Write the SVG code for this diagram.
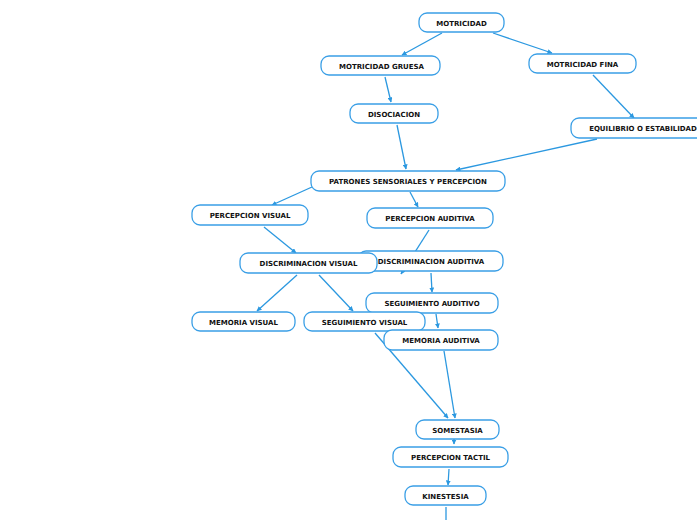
<svg xmlns="http://www.w3.org/2000/svg" width="697" height="520" viewBox="0 0 697 520">
<defs>
<marker id="ah" viewBox="0 0 10 10" refX="9" refY="5" markerWidth="5" markerHeight="5" orient="auto" markerUnits="userSpaceOnUse">
<path d="M0,0 L10,5 L0,10 z" fill="#2b98e0"/>
</marker>
<style>
.n rect{fill:#fff;stroke:#3a9fe6;stroke-width:1.3}
.n text{font-family:"DejaVu Sans",Verdana,sans-serif;font-weight:bold;font-size:7px;fill:#111;text-anchor:middle}
.c path{fill:none;stroke:#2b98e0;stroke-width:1.3;marker-end:url(#ah)}
</style>
</defs>
<rect width="697" height="520" fill="#fff"/>
<g id="connectors" class="c">
<path d="M442,33 L402,55"/>
<path d="M493,33 L552,53"/>
<path d="M385,77 L391,102"/>
<path d="M593,75 L634,118"/>
<path d="M397,125 L406,169"/>
<path d="M597,139 L456,170"/>
<path d="M312,187 L272,205"/>
<path d="M410,192 L418,207"/>
<path d="M264,227 L296,253"/>
<path d="M429,230 L401,274"/>
<path d="M431,273 L432,292"/>
<path d="M436,314 L438,328"/>
<path d="M297,275 L257,311"/>
<path d="M319,275 L353,311"/>
<path d="M375,333 L448,418"/>
<path d="M444,351 L455,418"/>
<path d="M454,436 L454,444"/>
<path d="M449,469 L448,485"/>
<path d="M446,507 L446,530" style="marker-end:none"/>
</g>
<g id="motricidad" class="n"><rect x="419" y="13" width="85" height="19" rx="8"/><text x="461.5" y="26">MOTRICIDAD</text></g>
<g id="motricidad-gruesa" class="n"><rect x="321" y="56" width="119" height="19" rx="8"/><text x="381.5" y="69">MOTRICIDAD GRUESA</text></g>
<g id="motricidad-fina" class="n"><rect x="529" y="54" width="107" height="19" rx="8"/><text x="582.5" y="67">MOTRICIDAD FINA</text></g>
<g id="disociacion" class="n"><rect x="350" y="104" width="88" height="19" rx="8"/><text x="394" y="117">DISOCIACION</text></g>
<g id="equilibrio" class="n"><rect x="571" y="118" width="140" height="20" rx="8"/><text x="643" y="131">EQUILIBRIO O ESTABILIDAD</text></g>
<g id="patrones" class="n"><rect x="311" y="171" width="194" height="20" rx="8"/><text x="408" y="184">PATRONES SENSORIALES Y PERCEPCION</text></g>
<g id="percepcion-visual" class="n"><rect x="192" y="205" width="116" height="20" rx="8"/><text x="250" y="218">PERCEPCION VISUAL</text></g>
<g id="percepcion-auditiva" class="n"><rect x="367" y="208" width="126" height="20" rx="8"/><text x="430" y="221">PERCEPCION AUDITIVA</text></g>
<g id="discriminacion-auditiva" class="n"><rect x="358" y="251" width="145" height="20" rx="8"/><text x="431" y="264">DISCRIMINACION AUDITIVA</text></g>
<g id="discriminacion-visual" class="n"><rect x="240" y="253" width="137" height="20" rx="8"/><text x="308.5" y="266">DISCRIMINACION VISUAL</text></g>
<g id="seguimiento-auditivo" class="n"><rect x="366" y="293" width="132" height="20" rx="8"/><text x="432" y="306">SEGUIMIENTO AUDITIVO</text></g>
<g id="memoria-visual" class="n"><rect x="192" y="312" width="103" height="19" rx="8"/><text x="243.5" y="325">MEMORIA VISUAL</text></g>
<g id="seguimiento-visual" class="n"><rect x="304" y="312" width="121" height="19" rx="8"/><text x="364.5" y="325">SEGUIMIENTO VISUAL</text></g>
<g id="memoria-auditiva" class="n"><rect x="384" y="330" width="114" height="20" rx="8"/><text x="441" y="343">MEMORIA AUDITIVA</text></g>
<g id="somestasia" class="n"><rect x="416" y="420" width="83" height="19" rx="8"/><text x="457.5" y="433">SOMESTASIA</text></g>
<g id="percepcion-tactil" class="n"><rect x="393" y="447" width="115" height="20" rx="8"/><text x="450.5" y="460">PERCEPCION TACTIL</text></g>
<g id="kinestesia" class="n"><rect x="405" y="486" width="81" height="19" rx="8"/><text x="445.5" y="499">KINESTESIA</text></g>
</svg>
